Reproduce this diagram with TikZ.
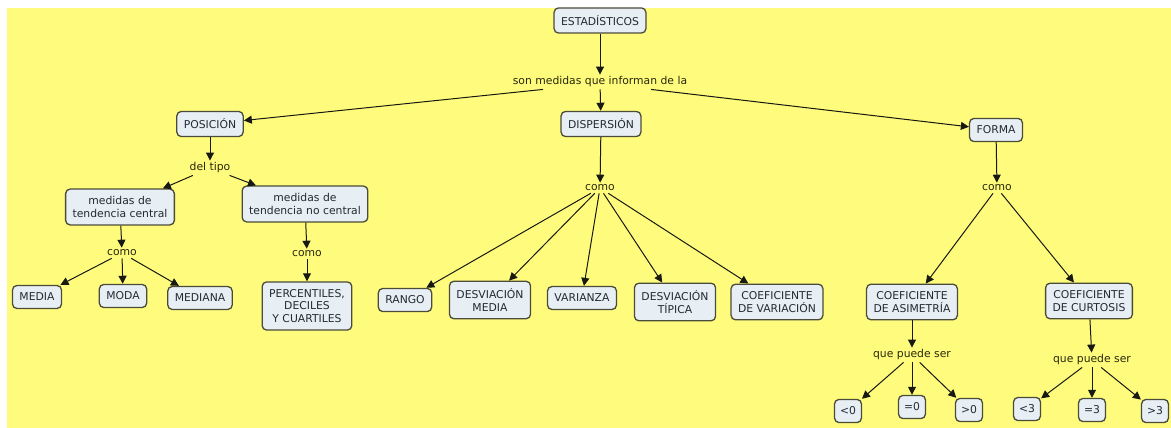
\documentclass[tikz,border=0pt]{standalone}
\usepackage{fontspec}
\setmainfont{DejaVu Sans}
\usetikzlibrary{arrows.meta}
\definecolor{bgyellow}{RGB}{255,252,125}
\definecolor{boxfill}{RGB}{231,239,245}
\definecolor{boxline}{RGB}{75,75,58}
\definecolor{boxtext}{RGB}{35,42,52}
\definecolor{phrasetext}{RGB}{40,40,12}
\definecolor{linkcol}{RGB}{25,25,20}
\begin{document}
\begin{tikzpicture}[x=1pt,y=-1pt,
  concept/.style={draw=boxline, line width=1.3pt, fill=boxfill, rounded corners=4.5pt,
    text=boxtext, align=center, inner xsep=7pt, inner ysep=7.5pt, minimum height=23pt,
    font=\fontsize{10.8}{12.5}\selectfont},
  small/.style={concept, inner xsep=5.5pt},
  phrase/.style={text=phrasetext, inner sep=2pt, font=\fontsize{10.8}{12.5}\selectfont},
  link/.style={draw=linkcol, line width=1pt, -{Triangle[length=8pt,width=8pt]}}]

% page and coloured canvas
\fill[white] (0,0) rectangle (1171,428);
\fill[bgyellow] (7,8) rectangle (1171,428);
\useasboundingbox (0,0) rectangle (1171,428);

% top level
\node[concept] (est) at (600,20.5) {ESTADÍSTICOS};
\node[phrase] (lbl) at (600,82) {son medidas que informan de la};
\node[concept] (pos) at (210,124) {POSICIÓN};
\node[concept] (dis) at (601,124) {DISPERSIÓN};
\node[concept] (for) at (996,130) {FORMA};

% position branch
\node[phrase] (deltipo) at (210,168) {del tipo};
\node[concept] (mtc) at (120,207) {medidas de\\tendencia central};
\node[concept] (mtnc) at (305,204) {medidas de\\tendencia no central};
\node[phrase] (como1) at (122,253) {como};
\node[phrase] (como2) at (307,254) {como};
\node[concept] (media) at (37,297) {MEDIA};
\node[concept] (moda) at (123,296) {MODA};
\node[concept] (mediana) at (200,298) {MEDIANA};
\node[concept] (perc) at (307,306) {PERCENTILES,\\DECILES\\Y CUARTILES};

% dispersion branch
\node[phrase] (como3) at (600,188) {como};
\node[concept] (rango) at (405,300) {RANGO};
\node[concept] (dmed) at (490,300) {DESVIACIÓN\\MEDIA};
\node[concept] (var) at (582,298) {VARIANZA};
\node[concept] (dtip) at (675,302) {DESVIACIÓN\\TÍPICA};
\node[concept] (cvar) at (777,302) {COEFICIENTE\\DE VARIACIÓN};

% shape branch
\node[phrase] (como4) at (997,188) {como};
\node[concept] (asim) at (912,302) {COEFICIENTE\\DE ASIMETRÍA};
\node[concept] (curt) at (1089,301) {COEFICIENTE\\DE CURTOSIS};
\node[phrase] (qps1) at (912,355) {que puede ser};
\node[phrase] (qps2) at (1092,360) {que puede ser};
\node[small] (lt0) at (848,411) {<0};
\node[small] (eq0) at (912,407) {=0};
\node[small] (gt0) at (969,410) {>0};
\node[small] (lt3) at (1027,409) {<3};
\node[small] (eq3) at (1092,410) {=3};
\node[small] (gt3) at (1155,411) {>3};

% connectors
\draw[link] (est) -- (lbl);
\draw[link] ([xshift=-57pt]lbl.south) -- (pos);
\draw[link] (lbl) -- (dis);
\draw[link] ([xshift=51pt]lbl.south) -- (for);

\draw[link] (pos) -- (deltipo);
\draw[link] (deltipo) -- (mtc);
\draw[link] (deltipo) -- (mtnc);
\draw[link] (mtc) -- (como1);
\draw[link] (mtnc) -- (como2);
\draw[link] (como1) -- (media);
\draw[link] (como1) -- (moda);
\draw[link] (como1) -- (mediana);
\draw[link] (como2) -- (perc);

\draw[link] (dis) -- (como3);
\draw[link] (como3) -- (rango);
\draw[link] (como3) -- (dmed);
\draw[link] (como3) -- (var);
\draw[link] (como3) -- (dtip);
\draw[link] (como3) -- (cvar);

\draw[link] (for) -- (como4);
\draw[link] (como4) -- (asim);
\draw[link] (como4) -- (curt);
\draw[link] (asim) -- (qps1);
\draw[link] (curt) -- (qps2);
\draw[link] (qps1) -- (lt0);
\draw[link] (qps1) -- (eq0);
\draw[link] (qps1) -- (gt0);
\draw[link] (qps2) -- (lt3);
\draw[link] (qps2) -- (eq3);
\draw[link] (qps2) -- (gt3);
\end{tikzpicture}
\end{document}
